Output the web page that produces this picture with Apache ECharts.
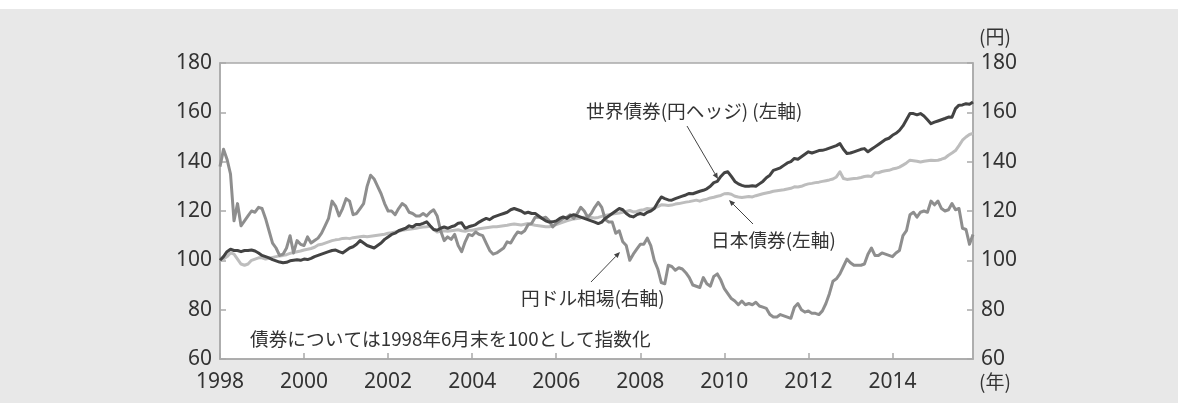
<!DOCTYPE html>
<html>
<head>
<meta charset="utf-8">
<script src="https://cdn.jsdelivr.net/npm/echarts@6/dist/echarts.min.js"></script>
<style>
html,body{margin:0;padding:0;}
body{width:1178px;height:403px;background:linear-gradient(to bottom,#ffffff 0px,#ffffff 9px,#e8e8e8 9px,#e8e8e8 100%);overflow:hidden;}
#c{width:1178px;height:403px;}
</style>
</head>
<body>
<div id="c"></div>
<script>
// monthly data, June 1998 .. May 2016
const startYear = 1998, startMonth = 6;
const xTickLabels = ['1998','2000','2002','2004','2006','2008','2010','2012','2014'];
const yTickLabels = [60, 80, 100, 120, 140, 160, 180];

// 円ドル相場 (right axis, yen per dollar, month-end)
const yenDollar = [
  138, 145, 141, 135, 116, 123, 114,
  116, 118, 120, 119.5, 121.5, 121, 117, 112, 107, 105, 102, 102.5,
  105, 110, 103, 108, 106.5, 106, 109.5, 107, 108, 109, 111, 114,
  117, 124, 122, 118, 121, 125, 124, 118.5, 119, 121, 123, 130,
  134.5, 133, 130, 127, 123, 120, 120, 118.5, 121, 123, 122, 119.5,
  119, 118, 118, 119, 118, 119.5, 120.5, 118, 112, 108, 109.5, 108.5,
  110.5, 106, 103.5, 107.5, 110.5, 110, 111.5, 110.5, 110, 107, 104, 102.5,
  103, 104, 105, 107.5, 107, 109.5, 111.5, 111, 112, 114.5, 115, 117.5,
  117.5, 117, 117.5, 116, 113.5, 115, 116, 117, 117.5, 118.5, 117, 119,
  121.5, 120, 117.5, 119, 121.5, 123.5, 121.5, 116.5, 115.5, 115.5, 111, 112,
  107.5, 106, 100, 102.5, 104.5, 106.5, 106.5, 109, 106, 100, 96.5, 91,
  90.5, 98, 97.5, 96, 97, 96.5, 95, 93, 90, 89.5, 89, 93,
  90.5, 89.5, 93.5, 94.5, 92, 88.5, 86.5, 84.5, 83.5, 82, 83.5, 82,
  82.5, 82, 83, 81.5, 81, 80.5, 78, 77, 77, 78, 77.5, 77,
  76.5, 81, 82.5, 80, 79, 79.5, 78.5, 78.5, 78, 79.5, 82.5, 86.5,
  91.5, 92.5, 94.5, 97.5, 100.5, 99, 98, 98, 98, 98.5, 102.5, 105,
  102, 102, 103, 102.5, 102, 101.5, 103, 104, 110, 112, 118.5, 119.5,
  117.5, 119.5, 120, 119.5, 124, 122.5, 124, 121, 120, 120.5, 123, 120.5,
  121, 113, 112.5, 106.5, 110.5
];

// 世界債券(円ヘッジ) (left axis, index, 1998/6 = 100)
const worldBond = [
  100, 101.5, 103.5, 104.5, 104, 104, 103.5,
  104, 104, 104.2, 103.8, 103, 102, 101.5, 101, 100.3, 99.8, 99.3, 99,
  99.2, 99.8, 100, 100.2, 100, 100.5, 100.3, 100.8, 101.5, 102, 102.5, 103,
  103.5, 104, 104.2, 103.5, 103, 104, 105, 105.5, 106.5, 108, 107, 106,
  105.5, 105, 106, 107, 108.5, 109.5, 110.5, 111, 112, 112.5, 113, 114,
  113.5, 114.5, 114.5, 115, 115.6, 114, 112.5, 112.2, 113, 113.5, 113, 113.6,
  114, 115, 115.2, 113, 113.6, 114, 114.5, 115.5, 116.3, 117, 116.5, 117.5,
  118, 118.5, 119, 119.5, 120.5, 121, 120.5, 120, 119.1, 119.5, 119, 119,
  118, 117, 116, 115.5, 115.6, 116, 117, 117.6, 117, 118, 118.5, 118,
  117.5, 117, 116.5, 116, 115.5, 114.9, 115.5, 117, 118, 119, 120, 121,
  120.5, 119, 118, 117.6, 118.5, 119, 118.5, 119.5, 120, 121, 123.5, 125.7,
  125, 124.5, 124.4, 125, 125.5, 126, 126.5, 127.1, 127, 127.5, 128, 128.4,
  129, 130, 131.5, 132, 134, 135.5, 135.9, 134, 132, 131, 130.4, 130,
  130, 130.2, 130, 131, 132, 133.5, 134.5, 136.5, 137, 137.5, 138.5, 139.5,
  140, 141.3, 141, 142, 143, 144, 143.5, 144, 144.5, 144.6, 145, 145.5,
  146, 146.5, 147.3, 145, 143.3, 143.5, 144, 144.5, 145, 145.3, 144, 145,
  146, 147, 148, 149, 149.5, 150.7, 151.5, 152.7, 154.5, 157, 159.5, 159.5,
  159, 159.5, 158.5, 157, 155.4, 156, 156.5, 157, 157.5, 158.1, 158, 161.5,
  162.9, 163, 163.5, 163.3, 164.2
];

// 日本債券 (left axis, index, 1998/6 = 100)
const japanBond = [
  100, 100.5, 101.5, 103, 102.5, 100.5, 98.5,
  98, 98.5, 100, 100.5, 101, 101, 100.5, 100.8, 101.2, 101.5, 101.8, 102,
  102.3, 102.8, 103.2, 103.5, 103.8, 104.2, 104.5, 104.8, 105.3, 106.2, 106.5, 107,
  107.5, 108, 108.3, 108.5, 108.9, 109, 108.8, 109.2, 109.4, 109.6, 109.8, 109.6,
  109.8, 110, 110.2, 110.4, 110.6, 111, 111.2, 111.5, 111.8, 112.2, 112.4, 112.6,
  112.8, 113, 113.3, 113.5, 113.6, 113.8, 112.5, 111.5, 111.8, 112, 111.8, 112,
  112.2, 112.4, 112, 111.8, 112.2, 112.2, 112.5, 112.8, 113, 113.2, 113.4, 113.6,
  113.6, 113.8, 114, 114.2, 114.5, 114.7, 114.5, 114.3, 114.6, 114.9, 114.5, 114.2,
  114, 113.8, 113.6, 113.6, 114, 114.5, 115, 115.5, 116, 116.4, 116.8, 117,
  117.2, 117.5, 117.3, 117.4, 117.2, 117.4, 117.8, 118.2, 118.5, 118.8, 119, 119.2,
  119.5, 119.8, 120.2, 119.6, 119.8, 120.3, 120.5, 121, 120.8, 121.2, 121.8, 122.5,
  122.4, 122.2, 122.4, 122.8, 123, 123.3, 123.6, 123.8, 124.1, 124.4, 124, 124.5,
  124.8, 125.3, 125.6, 126, 126.3, 127, 127.1, 126.8, 126, 125.7, 125.5, 125.7,
  125.9, 125.7, 126.2, 126.6, 127, 127.3, 127.6, 128, 128.2, 128.4, 128.6, 128.9,
  129.2, 129.8, 129.7, 130, 130.6, 131, 131.2, 131.5, 131.7, 132, 132.3, 132.6,
  133, 133.8, 135.9, 133.2, 132.8, 133, 133.2, 133.3, 133.6, 134, 134.2, 134,
  135.5, 135.5, 136, 136.3, 136.5, 137, 137.3, 137.8, 138.6, 139.5, 140.6, 140.4,
  140.2, 139.9, 140.2, 140.4, 140.6, 140.5, 140.6, 141, 141.5, 142.6, 143.5, 144.5,
  146.5, 148.7, 150, 151, 151.5
];

// categories: one per month
const categories = [];
for (let i = 0; i < worldBond.length; i++) {
  const m = startMonth - 1 + i;
  categories.push((startYear + Math.floor(m / 12)) + '/' + (m % 12 + 1));
}

const TXT = '#333333';
const AX = '#a9a9a9';
const numFont = '"Noto Sans", "DejaVu Sans", sans-serif';
const jpFont = '"Noto Sans CJK JP", "Noto Sans", sans-serif';

function arrow(x1, y1, x2, y2) {
  const dx = x2 - x1, dy = y2 - y1, L = Math.hypot(dx, dy);
  const ux = dx / L, uy = dy / L, px = -uy, py = ux;
  const hl = 6, hw = 2.6;
  const bx = x2 - ux * hl, by = y2 - uy * hl;
  return [
    { type: 'line', z: 100, shape: { x1: x1, y1: y1, x2: bx, y2: by }, style: { stroke: '#444', lineWidth: 1 } },
    { type: 'polygon', z: 100, shape: { points: [[x2, y2], [bx + px * hw, by + py * hw], [bx - px * hw, by - py * hw]] }, style: { fill: '#444' } }
  ];
}
function label(text, x, y, size, align) {
  return { type: 'text', z: 100, style: { text: text, x: x, y: y, fill: TXT, font: size + 'px ' + jpFont, textAlign: align || 'left', textVerticalAlign: 'middle', align: align || 'left', verticalAlign: 'middle' } };
}

const chart = echarts.init(document.getElementById('c'), null, { renderer: 'canvas' });
const tickShow = (idx) => idx % 24 === 0;

chart.setOption({
  backgroundColor: 'transparent',
  animation: false,
  grid: { left: 220, right: 205, top: 63, bottom: 44, show: true, backgroundColor: '#ffffff', borderColor: AX, borderWidth: 1.5 },
  xAxis: {
    type: 'category', data: categories, boundaryGap: false,
    axisLine: { show: true, lineStyle: { color: AX, width: 1.5 } },
    axisTick: { show: true, inside: true, length: 6, interval: (idx) => tickShow(idx), lineStyle: { color: AX, width: 1.5 } },
    axisLabel: { show: true, interval: (idx) => tickShow(idx), margin: 13, color: TXT, fontFamily: numFont, fontSize: 21,
      formatter: (val, idx) => xTickLabels[idx / 24] || '' },
    splitLine: { show: false }
  },
  yAxis: [
    { type: 'value', min: yTickLabels[0], max: yTickLabels[yTickLabels.length - 1], interval: 20, position: 'left',
      axisLine: { show: true, lineStyle: { color: AX, width: 1.5 } },
      axisTick: { show: true, inside: true, length: 6, lineStyle: { color: AX, width: 1.5 } },
      axisLabel: { margin: 8, color: TXT, fontFamily: numFont, fontSize: 21 },
      splitLine: { show: false } },
    { type: 'value', min: yTickLabels[0], max: yTickLabels[yTickLabels.length - 1], interval: 20, position: 'right',
      axisLine: { show: true, lineStyle: { color: AX, width: 1.5 } },
      axisTick: { show: true, inside: true, length: 6, lineStyle: { color: AX, width: 1.5 } },
      axisLabel: { margin: 8, color: TXT, fontFamily: numFont, fontSize: 21 },
      splitLine: { show: false } }
  ],
  series: [
    { name: '日本債券(左軸)', type: 'line', yAxisIndex: 0, data: japanBond, showSymbol: false, symbol: 'none',
      lineStyle: { color: '#bdbdbd', width: 3, join: 'round' }, z: 2 },
    { name: '円ドル相場(右軸)', type: 'line', yAxisIndex: 1, data: yenDollar, showSymbol: false, symbol: 'none',
      lineStyle: { color: '#8e8e8e', width: 3, join: 'round' }, z: 3 },
    { name: '世界債券(円ヘッジ) (左軸)', type: 'line', yAxisIndex: 0, data: worldBond, showSymbol: false, symbol: 'none',
      lineStyle: { color: '#434343', width: 3, join: 'round' }, z: 4 }
  ],
  graphic: [].concat(
    [label('世界債券(円ヘッジ) (左軸)', 586, 111, 18.7)],
    arrow(687, 126, 718, 179),
    [label('日本債券(左軸)', 711, 240, 18.7)],
    arrow(753, 224, 729, 200),
    [label('円ドル相場(右軸)', 521, 298, 18.7)],
    arrow(591, 282, 620, 252),
    [label('債券については1998年6月末を100として指数化', 250, 339, 18.7)],
    [label('(円)', 979, 37, 19)],
    [label('(年)', 979, 382, 19)]
  )
});
</script>
</body>
</html>
